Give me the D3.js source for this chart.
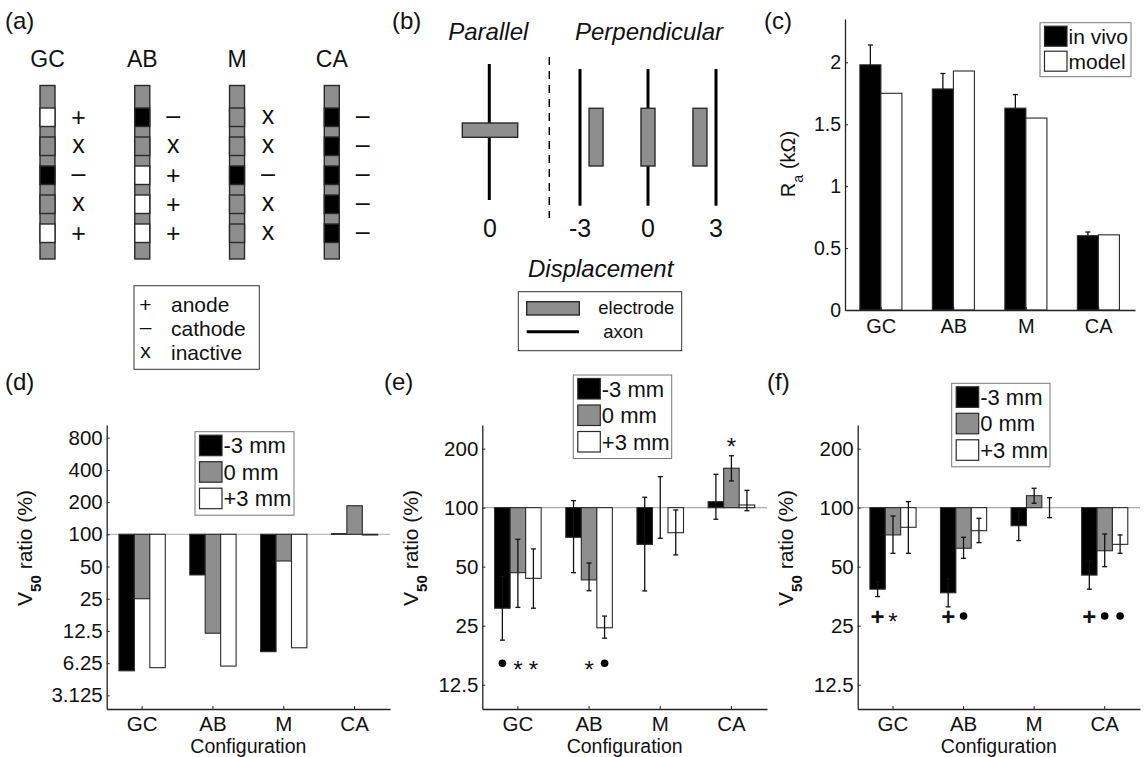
<!DOCTYPE html>
<html><head><meta charset="utf-8">
<script src="https://cdn.jsdelivr.net/npm/d3@7"></script>
<style>
body{margin:0;background:#fff}
svg text{font-family:"Liberation Sans",Arial,sans-serif;fill:#111}
</style>
</head><body>
<svg id="fig" width="1144" height="757"></svg>
<script>
// ---------------- DATA ----------------
const configs = ["GC","AB","M","CA"];
// (a) electrode roles, top to bottom
const rolesGC = ["+","x","–","x","+"];
const rolesAB = ["–","x","+","+","+"];
const rolesM  = ["x","x","–","x","x"];
const rolesCA = ["–","–","–","–","–"];
const roleLegendSymbols = ["+","–","x"];
const roleLegendLabels = ["anode","cathode","inactive"];
// (b)
const displacements = [-3,0,3];
const displacementLabels = ["-3","0","3"];
const parallelLabel = "0";
const bLegendLabels = ["electrode","axon"];
// (c) access resistance (kΩ)
const raSeries = ["in vivo","model"];
const raInVivo = [1.98, 1.785, 1.63, 0.60];
const raInVivoErr = [0.16, 0.125, 0.11, 0.03];
const raModel = [1.75, 1.93, 1.55, 0.607];
const raTicks = [0, 0.5, 1, 1.5, 2];
// shift series
const shiftSeries = ["-3 mm","0 mm","+3 mm"];
// (d) model V50 ratio (%)
const dMinus3 = [5.3, 41.7, 8.0, 101.5];
const dZero   = [25, 11.9, 56.3, 185];
const dPlus3  = [5.67, 5.87, 8.7, 98.5];
const dTicks = [3.125, 6.25, 12.5, 25, 50, 100, 200, 400, 800];
// (e) V50 ratio (%) with error ranges
const eMinus3 = [30.7, 70.6, 65, 107.3];
const eMinus3Lo = [21.1, 46.6, 37.6, 87.3];
const eMinus3Hi = [44.6, 108.6, 113, 148];
const eZero = [46.6, 42.8, 100, 158.9];
const eZeroLo = [31, 37.7, 69.8, 136.8];
const eZeroHi = [69, 52.2, 143.9, 184];
const ePlus3 = [43.6, 24.4, 74.5, 103.2];
const ePlus3Lo = [30.7, 21.6, 57.4, 96.5];
const ePlus3Hi = [61.6, 28.0, 97.3, 122.6];
const eMarkCats = ["GC","GC","GC","AB","AB","CA"];
const eMarkSeries = [0,1,2,1,2,1];
const eMarkSymbols = ["•","*","*","*","•","*"];
const eMarkLevels = [16.1,16.1,16.1,16.1,16.1,221];
// (f)
const fMinus3 = [38.4, 36.8, 80.9, 45.3];
const fMinus3Lo = [35.2, 31.2, 67.9, 38.4];
const fMinus3Hi = [41.9, 43.4, 96.4, 53.4];
const fZero = [72.6, 62.1, 115.1, 60.3];
const fZeroLo = [58.5, 55.2, 105.3, 50];
const fZeroHi = [90.7, 70.6, 125.6, 73.4];
const fPlus3 = [79.4, 76.3, 100, 65.0];
const fPlus3Lo = [58.5, 66.3, 88.9, 58.5];
const fPlus3Hi = [107.3, 88.3, 112.4, 72.6];
const fMarkCats = ["GC","GC","AB","AB","CA","CA","CA"];
const fMarkSeries = [0,1,0,1,0,1,2];
const fMarkSymbols = ["+","*","+","•","+","•","•"];
const fMarkLevels = [28,28,28,28,28,28,28];
const v50Ticks = [12.5, 25, 50, 100, 200];

// ---------------- DRAW ----------------
const svg = d3.select("#fig");
const GRAY = "#8e8e8e";
const EDGE = "#2a2a2a";
const seriesFill = ["#000", GRAY, "#fff"];

function txt(g, x, y, s, size, anchor, italic){
  const t = g.append("text").attr("x",x).attr("y",y).attr("font-size",size).text(s);
  if(anchor) t.attr("text-anchor",anchor);
  if(italic) t.attr("font-style","italic");
  return t;
}
// symbol centred on (x,y)
function symbol(g, x, y, s, size, bold){
  if(s==="•"){ g.append("circle").attr("cx",x).attr("cy",y).attr("r",3.8).attr("fill","#000"); return; }
  const off = s==="*" ? 0.6 : (s==="+" ? 0.36 : (s==="x" ? 0.26 : 0.28));
  const t = txt(g, x, y + off*size, s, size, "middle");
  if(s==="+" && bold) t.attr("font-weight","bold");
}

// ===== (a) =====
const ga = svg.append("g");
txt(ga, 5, 29, "(a)", 24);
const colX = d3.scalePoint().domain(configs).range([47.5, 331.8]);
const elecY = d3.scaleBand().domain(d3.range(5)).range([108, 242.5]).paddingInner(0.362).paddingOuter(0);
const rolesAll = [rolesGC, rolesAB, rolesM, rolesCA];
const roleFill = r => r==="+" ? "#fff" : (r==="–" ? "#000" : GRAY);
configs.forEach((c,i)=>{
  const x = colX(c);
  txt(ga, x, 67, c, 23, "middle");
  ga.append("rect").attr("x",x-7.5).attr("y",85.5).attr("width",15).attr("height",173.5)
    .attr("fill",GRAY).attr("stroke",EDGE).attr("stroke-width",1.4);
  rolesAll[i].forEach((r,k)=>{
    const y = elecY(k);
    ga.append("rect").attr("x",x-7.5).attr("y",y).attr("width",15).attr("height",elecY.bandwidth())
      .attr("fill",roleFill(r)).attr("stroke",EDGE).attr("stroke-width",1.4);
    symbol(ga, x+31, y+elecY.bandwidth()/2, r, 25);
  });
});
ga.append("rect").attr("x",134).attr("y",285.7).attr("width",125.3).attr("height",83.6)
  .attr("fill","none").attr("stroke","#333").attr("stroke-width",1);
roleLegendSymbols.forEach((s,i)=>{
  const cy = 304 + i*24.4;
  symbol(ga, 145.5, cy, s, 21);
  txt(ga, 171, cy+7.5, roleLegendLabels[i], 21);
});

// ===== (b) =====
const gb = svg.append("g");
txt(gb, 392, 29, "(b)", 24);
txt(gb, 488.3, 40, "Parallel", 24, "middle", true);
txt(gb, 649, 40, "Perpendicular", 24, "middle", true);
// parallel
gb.append("line").attr("x1",489.3).attr("x2",489.3).attr("y1",64).attr("y2",200).attr("stroke","#000").attr("stroke-width",3);
gb.append("rect").attr("x",462.3).attr("y",123).attr("width",55.4).attr("height",14.3)
  .attr("fill",GRAY).attr("stroke",EDGE).attr("stroke-width",1.4);
txt(gb, 490, 237, parallelLabel, 25, "middle");
gb.append("line").attr("x1",549.3).attr("x2",549.3).attr("y1",57).attr("y2",218)
  .attr("stroke","#000").attr("stroke-width",1.5).attr("stroke-dasharray","8,6");
// perpendicular
const dispX = d3.scaleLinear().domain([-3,3]).range([580,716]);
displacements.forEach((d,i)=>{
  const ax = dispX(d);
  gb.append("line").attr("x1",ax).attr("x2",ax).attr("y1",69).attr("y2",205.7).attr("stroke","#000").attr("stroke-width",3);
  const ex = ax - d*5.35;
  gb.append("rect").attr("x",ex-7).attr("y",108.3).attr("width",14).attr("height",57.7)
    .attr("fill",GRAY).attr("stroke",EDGE).attr("stroke-width",1.4);
  txt(gb, ax, 237, displacementLabels[i], 25, "middle");
});
txt(gb, 600.7, 277, "Displacement", 24, "middle", true);
gb.append("rect").attr("x",518.3).attr("y",291.7).attr("width",163.4).attr("height",59)
  .attr("fill","none").attr("stroke","#333").attr("stroke-width",1);
gb.append("rect").attr("x",526.7).attr("y",301.7).attr("width",52.6).attr("height",13.3)
  .attr("fill",GRAY).attr("stroke",EDGE).attr("stroke-width",1.4);
gb.append("line").attr("x1",526.7).attr("x2",579).attr("y1",331.7).attr("y2",331.7).attr("stroke","#000").attr("stroke-width",3);
txt(gb, 598.3, 314.3, bLegendLabels[0], 18.5);
txt(gb, 603.3, 338.3, bLegendLabels[1], 18.5);

// ---------- shared helpers ----------
function styleAxis(g, size){
  g.attr("font-family",null).attr("font-size",size).attr("color","#222");
  g.selectAll("text").attr("fill","#111");
  g.select(".domain").attr("stroke-width",1.3);
}
function legend(g, x, y, w, rowH, labels, fills, size, swW, swH){
  g.append("rect").attr("x",x).attr("y",y).attr("width",w).attr("height",rowH*labels.length+4)
    .attr("fill","#fff").attr("stroke","#777").attr("stroke-width",1);
  labels.forEach((l,i)=>{
    const sy = y + 3 + i*rowH;
    g.append("rect").attr("x",x+4.5).attr("y",sy+0.5).attr("width",swW).attr("height",swH)
      .attr("fill",fills[i]).attr("stroke",EDGE).attr("stroke-width",1.2);
    txt(g, x+6+swW, sy+swH-2, l, size);
  });
}
function yLabel(g, x, y, main, sub, rest, size){
  const t = g.append("text").attr("transform",`translate(${x},${y}) rotate(-90)`)
    .attr("text-anchor","middle").attr("font-size",size);
  t.append("tspan").text(main);
  t.append("tspan").attr("baseline-shift","sub").attr("font-size",size*0.72).attr("font-weight",sub==="50"?"bold":null).text(sub);
  t.append("tspan").text(rest);
}

// ===== (c) =====
const gcP = svg.append("g");
txt(gcP, 764, 29, "(c)", 24);
const cX = d3.scaleBand().domain(configs).range([845,1135]);
const cY = d3.scaleLinear().domain([0,2.35]).range([310,19]);
const cSub = d3.scaleBand().domain(raSeries).range([cX.bandwidth()*0.205, cX.bandwidth()*0.785]);
const raVals = [raInVivo, raModel];
raSeries.forEach((s,si)=>{
  configs.forEach((c,ci)=>{
    const v = raVals[si][ci];
    gcP.append("rect").attr("x",cX(c)+cSub(s)).attr("y",cY(v)).attr("width",cSub.bandwidth())
      .attr("height",cY(0)-cY(v)).attr("fill",si===0?"#000":"#fff").attr("stroke",EDGE).attr("stroke-width",1.1);
  });
});
configs.forEach((c,ci)=>{
  const xm = cX(c)+cSub(raSeries[0])+cSub.bandwidth()/2;
  const y0 = cY(raInVivo[ci]), y1 = cY(raInVivo[ci]+raInVivoErr[ci]);
  gcP.append("line").attr("x1",xm).attr("x2",xm).attr("y1",y0).attr("y2",y1).attr("stroke","#111").attr("stroke-width",1.3);
  gcP.append("line").attr("x1",xm-2.5).attr("x2",xm+2.5).attr("y1",y1).attr("y2",y1).attr("stroke","#111").attr("stroke-width",1.3);
});
const cAxL = gcP.append("g").attr("transform","translate(845,0)")
  .call(d3.axisLeft(cY).tickValues(raTicks).tickFormat(d3.format("")).tickSizeInner(-3).tickSizeOuter(0).tickPadding(4));
styleAxis(cAxL, 19.5);
const cAxB = gcP.append("g").attr("transform","translate(0,310)")
  .call(d3.axisBottom(cX).tickSizeInner(-3).tickSizeOuter(0).tickPadding(9));
styleAxis(cAxB, 20);
yLabel(gcP, 795, 164, "R", "a", " (kΩ)", 20);
legend(gcP, 1040, 22.7, 91, 25, raSeries, ["#000","#fff"], 21, 22.5, 20);

// ===== (d),(e),(f) =====
function v50Panel(o){
  const g = svg.append("g");
  txt(g, o.labelX, 390, o.label, 24);
  const x = d3.scaleBand().domain(configs).range([o.x0,o.x1]);
  const y = d3.scaleLog().base(2).domain(o.domain).range([709,425]);
  const sub = d3.scaleBand().domain(shiftSeries).range([x.bandwidth()*0.173, x.bandwidth()*0.827]);
  g.append("line").attr("x1",o.x0).attr("x2",o.x1).attr("y1",y(100)).attr("y2",y(100)).attr("stroke","#aaa").attr("stroke-width",1.1);
  shiftSeries.forEach((s,si)=>{
    configs.forEach((c,ci)=>{
      const v = o.vals[si][ci];
      g.append("rect").attr("x",x(c)+sub(s)).attr("y",Math.min(y(v),y(100))).attr("width",sub.bandwidth())
        .attr("height",Math.abs(y(v)-y(100))).attr("fill",seriesFill[si]).attr("stroke",EDGE).attr("stroke-width",1.1);
    });
  });
  if(o.lo){
    shiftSeries.forEach((s,si)=>{
      configs.forEach((c,ci)=>{
        const xm = x(c)+sub(s)+sub.bandwidth()/2;
        const ya = y(o.lo[si][ci]), yb = y(o.hi[si][ci]);
        g.append("line").attr("x1",xm).attr("x2",xm).attr("y1",ya).attr("y2",yb).attr("stroke","#111").attr("stroke-width",1.3);
        [ya,yb].forEach(yy=>g.append("line").attr("x1",xm-2.5).attr("x2",xm+2.5).attr("y1",yy).attr("y2",yy).attr("stroke","#111").attr("stroke-width",1.3));
      });
    });
  }
  if(o.marks){
    o.marks.cats.forEach((c,i)=>{
      const xm = x(c)+sub(shiftSeries[o.marks.series[i]])+sub.bandwidth()/2;
      symbol(g, xm, y(o.marks.levels[i]), o.marks.symbols[i], 24, true);
    });
  }
  const axL = g.append("g").attr("transform",`translate(${o.x0},0)`)
    .call(d3.axisLeft(y).tickValues(o.ticks).tickFormat(d=>String(d)).tickSizeInner(-3).tickSizeOuter(0).tickPadding(4));
  styleAxis(axL, 20.5);
  const axB = g.append("g").attr("transform","translate(0,709)")
    .call(d3.axisBottom(x).tickSizeInner(-3).tickSizeOuter(0).tickPadding(7));
  styleAxis(axB, 20.5);
  txt(g, (o.x0+o.x1)/2, 753, "Configuration", 19.5, "middle");
  yLabel(g, o.yLabX, 548, "V", "50", " ratio (%)", 21);
  legend(g, o.leg[0], o.leg[1], o.leg[2], 26.5, shiftSeries, seriesFill, 22, 22.5, 20.5);
}
v50Panel({label:"(d)", labelX:5, x0:106.7, x1:390, domain:[2.33,1051], ticks:dTicks,
  vals:[dMinus3,dZero,dPlus3], yLabX:32, leg:[195,431.7,99]});
v50Panel({label:"(e)", labelX:384, x0:482.3, x1:767, domain:[9.4,264], ticks:v50Ticks,
  vals:[eMinus3,eZero,ePlus3], lo:[eMinus3Lo,eZeroLo,ePlus3Lo], hi:[eMinus3Hi,eZeroHi,ePlus3Hi],
  marks:{cats:eMarkCats, series:eMarkSeries, symbols:eMarkSymbols, levels:eMarkLevels},
  yLabX:418, leg:[573.3,375,98.4]});
v50Panel({label:"(f)", labelX:767, x0:857.7, x1:1140, domain:[9.4,264], ticks:v50Ticks,
  vals:[fMinus3,fZero,fPlus3], lo:[fMinus3Lo,fZeroLo,fPlus3Lo], hi:[fMinus3Hi,fZeroHi,fPlus3Hi],
  marks:{cats:fMarkCats, series:fMarkSeries, symbols:fMarkSymbols, levels:fMarkLevels},
  yLabX:793, leg:[951.7,383.3,98.3]});
</script>
</body></html>
